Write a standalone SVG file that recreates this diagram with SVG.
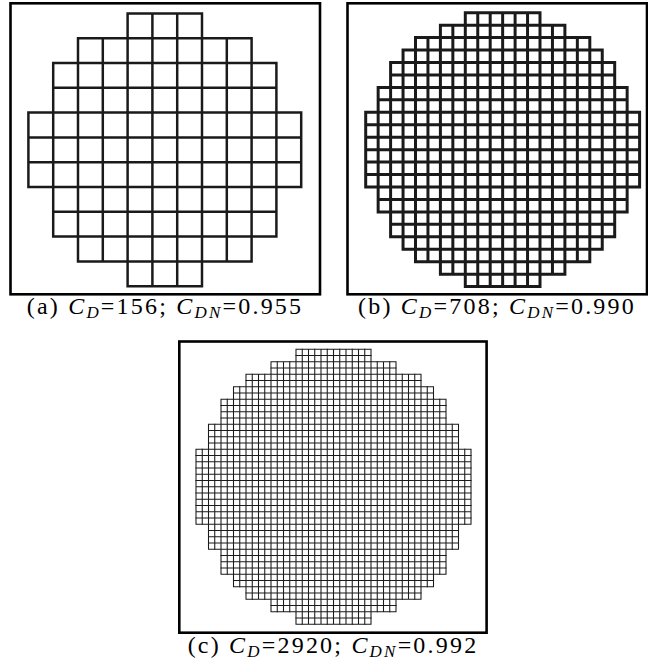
<svg xmlns="http://www.w3.org/2000/svg" xmlns:xlink="http://www.w3.org/1999/xlink" width="648" height="669" viewBox="0 0 648 669">
<style>
.frame{fill:none;stroke:#000;stroke-width:2.6}
.grid{fill:none;stroke:#1a1a1a;stroke-linecap:square}
.cap{font-family:"Liberation Serif","Times New Roman",serif;font-size:24px;letter-spacing:2.2px;fill:#000}
.it{font-style:italic}
.sub{font-style:italic;font-size:17px}
</style>
<defs>
<path id="g22" d="M8 0H14M6 1H16M4 2H18M3 3H19M2 4H20M2 5H20M1 6H21M1 7H21M0 8H22M0 9H22M0 10H22M0 11H22M0 12H22M0 13H22M0 14H22M1 15H21M1 16H21M2 17H20M2 18H20M3 19H19M4 20H18M6 21H16M8 22H14M0 8V14M1 6V16M2 4V18M3 3V19M4 2V20M5 2V20M6 1V21M7 1V21M8 0V22M9 0V22M10 0V22M11 0V22M12 0V22M13 0V22M14 0V22M15 1V21M16 1V21M17 2V20M18 2V20M19 3V19M20 4V18M21 6V16M22 8V14"/>
<path id="g22h" d="M8 .5H14M6 1.5H16M4 2.5H18M3 3.5H19M2 4.5H20M2 5.5H20M1 6.5H21M1 7.5H21M0 8.5H22M0 9.5H22M0 10.5H22M0 11.5H22M0 12.5H22M0 13.5H22M1 14.5H21M1 15.5H21M2 16.5H20M2 17.5H20M3 18.5H19M4 19.5H18M6 20.5H16M8 21.5H14M.5 8V14M1.5 6V16M2.5 4V18M3.5 3V19M4.5 2V20M5.5 2V20M6.5 1V21M7.5 1V21M8.5 0V22M9.5 0V22M10.5 0V22M11.5 0V22M12.5 0V22M13.5 0V22M14.5 1V21M15.5 1V21M16.5 2V20M17.5 2V20M18.5 3V19M19.5 4V18M20.5 6V16M21.5 8V14"/>
</defs>
<g id="panel-a">
<rect class="frame" x="10.5" y="3.3" width="309.5" height="291"/>
<g class="grid" transform="translate(28.4,13.4) scale(24.8)" stroke-width="0.1">
<path d="M4 0H7M2 1H9M1 2H10M1 3H10M0 4H11M0 5H11M0 6H11M0 7H11M1 8H10M1 9H10M2 10H9M4 11H7M0 4V7M1 2V9M2 1V10M3 1V10M4 0V11M5 0V11M6 0V11M7 0V11M8 1V10M9 1V10M10 2V9M11 4V7"/>
</g>
<text class="cap" x="165" y="314" text-anchor="middle">(a) <tspan class="it">C</tspan><tspan class="sub" dy="4">D</tspan><tspan dy="-4">=156; </tspan><tspan class="it">C</tspan><tspan class="sub" dy="4">DN</tspan><tspan dy="-4">=0.955</tspan></text>
</g>
<g id="panel-b">
<rect class="frame" x="347.5" y="3.3" width="299.5" height="291"/>
<g class="grid" transform="translate(365.7,12.7) scale(12.45)" stroke-width="0.24">
<use xlink:href="#g22" href="#g22"/>
</g>
<text class="cap" x="497" y="314" text-anchor="middle">(b) <tspan class="it">C</tspan><tspan class="sub" dy="4">D</tspan><tspan dy="-4">=708; </tspan><tspan class="it">C</tspan><tspan class="sub" dy="4">DN</tspan><tspan dy="-4">=0.990</tspan></text>
</g>
<g id="panel-c">
<rect class="frame" x="179.3" y="341.5" width="307.3" height="291.2"/>
<g class="grid" transform="translate(196,349.3) scale(12.5)" stroke-width="0.085">
<use xlink:href="#g22" href="#g22"/>
<use xlink:href="#g22h" href="#g22h"/>
</g>
<text class="cap" x="333" y="653" text-anchor="middle">(c) <tspan class="it">C</tspan><tspan class="sub" dy="4">D</tspan><tspan dy="-4">=2920; </tspan><tspan class="it">C</tspan><tspan class="sub" dy="4">DN</tspan><tspan dy="-4">=0.992</tspan></text>
</g>
</svg>
